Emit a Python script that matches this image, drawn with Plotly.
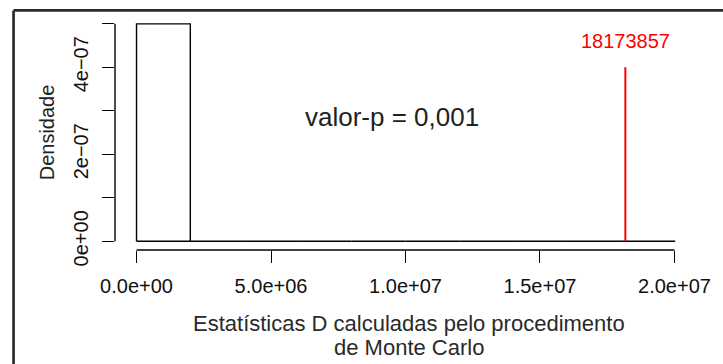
import plotly.graph_objects as go

# ---- data ----
bin_edges = [0, 2e6, 4e6, 6e6, 8e6, 10e6, 12e6, 14e6, 16e6, 18e6, 20e6]
densities = [4.995e-7, 0, 0, 0, 0, 0, 0, 0, 0, 5e-10]
observed = 18173857
observed_label = "18173857"
obs_line_top = 4e-7
obs_label_y = 4.6e-7
pvalue_text = "valor-p = 0,001"
pvalue_pos = (9.5e6, 2.85e-7)

x_ticks = [0, 5e6, 1e7, 1.5e7, 2e7]
x_ticklabels = ["0.0e+00", "5.0e+06", "1.0e+07", "1.5e+07", "2.0e+07"]
y_ticks = [0, 1e-7, 2e-7, 3e-7, 4e-7, 5e-7]
y_ticklabels = ["0e+00", "", "2e\u221207", "", "4e\u221207", ""]

x_title_lines = ["Estatísticas D calculadas pelo procedimento", "de Monte Carlo"]
y_title = "Densidade"

FONT = "Liberation Sans, Arial, sans-serif"

# histogram outline (R style: each bin as a rectangle)
hx, hy = [], []
for i, d in enumerate(densities):
    x0, x1 = bin_edges[i], bin_edges[i + 1]
    hx += [x0, x0, x1, x1, x0, None]
    hy += [0, d, d, 0, 0, None]

fig = go.Figure()
fig.add_trace(go.Scatter(x=hx, y=hy, mode="lines",
                         line=dict(color="black", width=1.4),
                         hoverinfo="skip", showlegend=False))
fig.add_trace(go.Scatter(x=[observed, observed], y=[0, obs_line_top], mode="lines",
                         line=dict(color="#ff0000", width=2),
                         hoverinfo="skip", showlegend=False))

xr = [x_ticks[0] - 0.04 * (x_ticks[-1] - x_ticks[0]), x_ticks[-1] + 0.04 * (x_ticks[-1] - x_ticks[0])]
yr = [y_ticks[0] - 0.04 * (y_ticks[-1] - y_ticks[0]), y_ticks[-1] + 0.04 * (y_ticks[-1] - y_ticks[0])]

title_annots = [
    dict(x=0.5, y=0, xref="paper", yref="paper", text=t, showarrow=False,
         font=dict(size=22, color="#2a2a2a"), xanchor="center", yanchor="middle",
         yshift=-73 - 24 * k, xshift=3)
    for k, t in enumerate(x_title_lines)
]

fig.update_layout(
    width=723, height=364,
    margin=dict(l=115, r=25.4, t=15.3, b=113.6),
    paper_bgcolor="white", plot_bgcolor="white",
    font=dict(family=FONT, size=20, color="#111111"),
    xaxis=dict(range=xr, tickvals=x_ticks, ticktext=x_ticklabels,
               ticks="outside", ticklen=12, tickwidth=1.4, tickcolor="black",
               showgrid=False, zeroline=False, showline=False,
               tickfont=dict(size=20, color="#111111"), ticklabelstandoff=6),
    yaxis=dict(range=yr, tickvals=y_ticks, ticktext=y_ticklabels, tickangle=-90,
               ticks="outside", ticklen=12, tickwidth=1.4, tickcolor="black",
               showgrid=False, zeroline=False, showline=False,
               tickfont=dict(size=20, color="#111111"), ticklabelstandoff=6,
               title=dict(text=y_title, font=dict(size=20, color="#222222"), standoff=10)),
    shapes=[
        # axis lines spanning first to last tick
        dict(type="line", xref="x", yref="paper", x0=x_ticks[0], x1=x_ticks[-1], y0=0, y1=0,
             line=dict(color="black", width=1.4)),
        dict(type="line", xref="paper", yref="y", x0=0, x1=0, y0=y_ticks[0], y1=y_ticks[-1],
             line=dict(color="black", width=1.4)),
        # outer frame (left and top)
        dict(type="line", xref="paper", yref="paper", x0=-0.1746, x1=-0.1746, y0=1.0196, y1=-0.5,
             line=dict(color="#2b2b2b", width=2.7)),
        dict(type="line", xref="paper", yref="paper", x0=-0.1746, x1=1.05, y0=1.0196, y1=1.0196,
             line=dict(color="#2b2b2b", width=2.7)),
    ],
    annotations=[
        dict(x=observed, y=obs_label_y, xref="x", yref="y", text=observed_label,
             showarrow=False, font=dict(size=20, color="#ff0000"), xanchor="center", yanchor="middle"),
        dict(x=pvalue_pos[0], y=pvalue_pos[1], xref="x", yref="y", text=pvalue_text,
             showarrow=False, font=dict(size=26, color="#222222"), xanchor="center", yanchor="middle"),
    ] + title_annots,
)

fig.write_html("out.html")
